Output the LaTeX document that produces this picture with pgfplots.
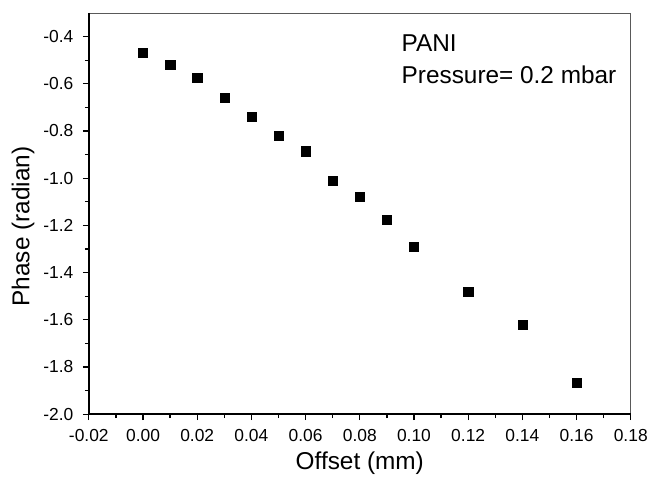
\documentclass[border=0pt]{standalone}
\usepackage{pgfplots}
\pgfplotsset{compat=1.18}
\usepackage{fontspec}
\setmainfont{Liberation Sans}
\begin{document}
\begin{tikzpicture}
\begin{axis}[
  scale only axis,
  width=543bp, height=402bp,
  xmin=-0.02, xmax=0.18, ymin=-2.0, ymax=-0.3,
  xtick={-0.02,0,0.02,0.04,0.06,0.08,0.10,0.12,0.14,0.16,0.18},
  ytick={-2.0,-1.8,-1.6,-1.4,-1.2,-1.0,-0.8,-0.6,-0.4},
  minor x tick num=1, minor y tick num=1,
  xticklabel style={/pgf/number format/fixed,/pgf/number format/fixed zerofill,/pgf/number format/precision=2, yshift=-6bp},
  yticklabel style={/pgf/number format/fixed,/pgf/number format/fixed zerofill,/pgf/number format/precision=1, xshift=-6bp},
  /pgf/number format/assume math mode=true,
  scaled x ticks=false, scaled y ticks=false,
  tick label style={font=\fontsize{17.5}{17.5}\selectfont},
  tick align=outside, tick pos=left,
  major tick length=6bp, minor tick length=4bp,
  every tick/.style={black, line width=1.3pt},
  axis line style={draw=gray!70!black, line width=0.7pt},
  xlabel={Offset (mm)}, ylabel={Phase (radian)},
  label style={font=\fontsize{24.5}{24.5}\selectfont},
  xlabel style={yshift=-3bp},
  ylabel style={yshift=2bp, xshift=-13bp},
  clip=false,
]
\addplot[only marks, mark=square*, mark size=4.6bp, black] coordinates {
(0.00,-0.469) (0.01,-0.520) (0.02,-0.573) (0.03,-0.660) (0.04,-0.738)
(0.05,-0.819) (0.06,-0.886) (0.07,-1.009) (0.08,-1.078) (0.09,-1.175)
(0.10,-1.289) (0.12,-1.482) (0.14,-1.622) (0.16,-1.866)
};
\draw[black, line width=1.6pt] (rel axis cs:0,1) -- (rel axis cs:0,0) -- (rel axis cs:1,0);
\node[anchor=base west, font=\fontsize{24.5}{24.5}\selectfont, inner sep=0pt] at (axis cs:0.0954,-0.463) {PANI};
\node[anchor=base west, font=\fontsize{24.5}{24.5}\selectfont, inner sep=0pt] at (axis cs:0.0954,-0.597) {Pressure= 0.2 mbar};
\end{axis}
\path (current axis.south west) ++(-89bp,-62bp) rectangle ++(651bp,477bp);
\end{tikzpicture}
\end{document}
